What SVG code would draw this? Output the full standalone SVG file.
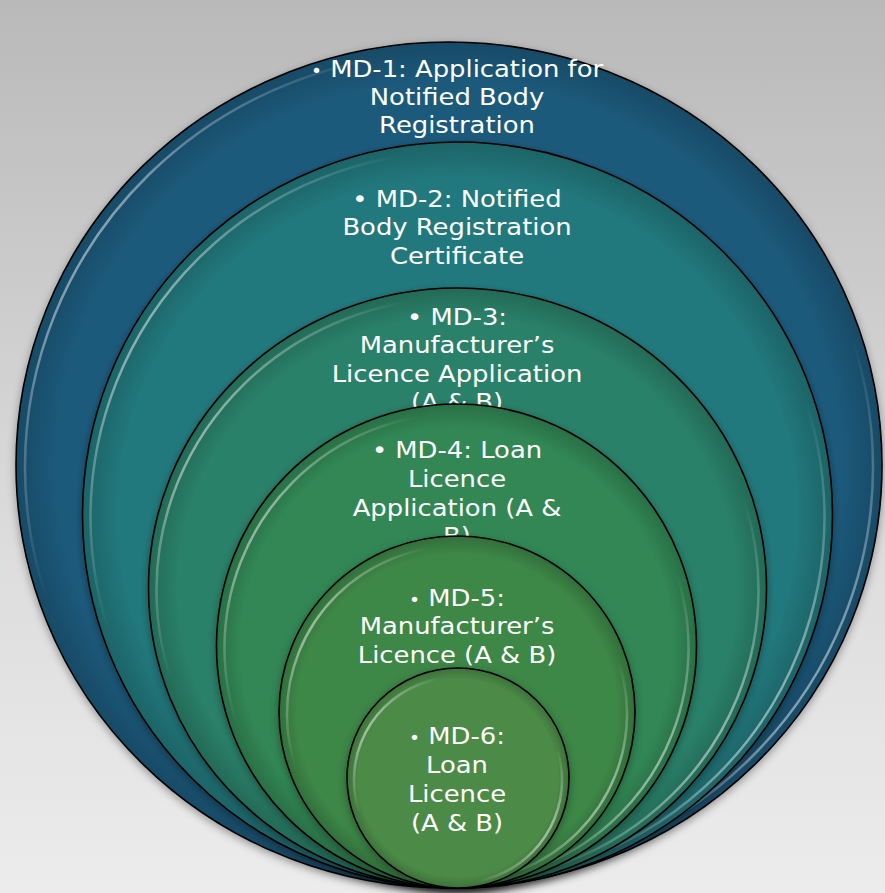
<svg xmlns="http://www.w3.org/2000/svg" width="885" height="893" viewBox="0 0 885 893">
  <defs>
    <linearGradient id="bg" x1="0" y1="0" x2="0" y2="1">
      <stop offset="0" stop-color="#b9b9b9"/>
      <stop offset="0.6" stop-color="#dcdcdc"/>
      <stop offset="1" stop-color="#ececec"/>
    </linearGradient>
    <linearGradient id="rim" x1="0" y1="0.2" x2="1" y2="0.8">
      <stop offset="0" stop-color="#ffffff" stop-opacity="0.9"/>
      <stop offset="0.1" stop-color="#ffffff" stop-opacity="0.3"/>
      <stop offset="0.22" stop-color="#ffffff" stop-opacity="0"/>
      <stop offset="0.78" stop-color="#ffffff" stop-opacity="0"/>
      <stop offset="0.9" stop-color="#ffffff" stop-opacity="0.3"/>
      <stop offset="1" stop-color="#ffffff" stop-opacity="0.9"/>
    </linearGradient>
    <radialGradient id="shade" cx="0.5" cy="0.5" r="0.5">
      <stop offset="0.9" stop-color="#000000" stop-opacity="0"/>
      <stop offset="1" stop-color="#000000" stop-opacity="0.18"/>
    </radialGradient>
    <filter id="shadow" x="-10%" y="-10%" width="120%" height="120%">
      <feDropShadow dx="0" dy="3" stdDeviation="4" flood-color="#000000" flood-opacity="0.35"/>
    </filter>
  </defs>
  <style>
    .disc { stroke: #000000; stroke-width: 1.6; filter: url(#shadow); }
    .shade { fill: url(#shade); stroke: none; }
    .rim { fill: none; stroke: url(#rim); stroke-width: 2.5; }
    .lbl { font-family: "DejaVu Sans", Verdana, sans-serif; font-size: 23.5px; fill: #ffffff; text-anchor: middle; }
    .sb { font-size: 17px; }
  </style>
  <rect x="0" y="0" width="885" height="893" fill="url(#bg)"/>

  <g id="md1">
    <ellipse class="disc" cx="449" cy="465" rx="433" ry="423" fill="#1d5a7b"/>
    <ellipse class="shade" cx="449" cy="465" rx="433" ry="423"/>
    <ellipse class="rim" cx="449" cy="467" rx="424" ry="414"/>
    <g transform="translate(457 0) scale(1.1 1)">
      <text class="lbl"><tspan x="0" y="77"><tspan class="sb">•</tspan> MD-1: Application for</tspan><tspan x="0" y="105">Notified Body</tspan><tspan x="0" y="133">Registration</tspan></text>
    </g>
  </g>

  <g id="md2">
    <ellipse class="disc" cx="457.5" cy="515" rx="375" ry="373" fill="#22797d"/>
    <ellipse class="shade" cx="457.5" cy="515" rx="375" ry="373"/>
    <ellipse class="rim" cx="457.5" cy="517" rx="367" ry="365"/>
    <g transform="translate(457 0) scale(1.1 1)">
      <text class="lbl"><tspan x="0" y="207">• MD-2: Notified</tspan><tspan x="0" y="235">Body Registration</tspan><tspan x="0" y="264">Certificate</tspan></text>
    </g>
  </g>

  <g id="md3">
    <ellipse class="disc" cx="457.5" cy="588" rx="309" ry="300" fill="#2a8169"/>
    <ellipse class="shade" cx="457.5" cy="588" rx="309" ry="300"/>
    <ellipse class="rim" cx="457.5" cy="590" rx="301" ry="292"/>
    <g transform="translate(457 0) scale(1.1 1)">
      <text class="lbl"><tspan x="0" y="325">• MD-3:</tspan><tspan x="0" y="353.5">Manufacturer’s</tspan><tspan x="0" y="382">Licence Application</tspan><tspan x="0" y="410">(A &amp; B)</tspan></text>
    </g>
  </g>

  <g id="md4">
    <ellipse class="disc" cx="456.5" cy="646" rx="240" ry="242" fill="#308755"/>
    <ellipse class="shade" cx="456.5" cy="646" rx="240" ry="242"/>
    <ellipse class="rim" cx="456.5" cy="648" rx="232" ry="234"/>
    <g transform="translate(457 0) scale(1.1 1)">
      <text class="lbl"><tspan x="0" y="458.5">• MD-4: Loan</tspan><tspan x="0" y="487.5">Licence</tspan><tspan x="0" y="516">Application (A &amp;</tspan><tspan x="0" y="544.5">B)</tspan></text>
    </g>
  </g>

  <g id="md5">
    <ellipse class="disc" cx="457" cy="712" rx="178" ry="176" fill="#3c8746"/>
    <ellipse class="shade" cx="457" cy="712" rx="178" ry="176"/>
    <ellipse class="rim" cx="457" cy="714" rx="170" ry="168"/>
    <g transform="translate(457 0) scale(1.1 1)">
      <text class="lbl"><tspan x="0" y="606"><tspan class="sb">•</tspan> MD-5:</tspan><tspan x="0" y="634.5">Manufacturer’s</tspan><tspan x="0" y="663">Licence (A &amp; B)</tspan></text>
    </g>
  </g>

  <g id="md6">
    <ellipse class="disc" cx="458" cy="778" rx="111" ry="110" fill="#4c8a46"/>
    <ellipse class="shade" cx="458" cy="778" rx="111" ry="110"/>
    <ellipse class="rim" cx="458" cy="780" rx="104" ry="103"/>
    <g transform="translate(457 0) scale(1.1 1)">
      <text class="lbl"><tspan x="0" y="744"><tspan class="sb">•</tspan> MD-6:</tspan><tspan x="0" y="773">Loan</tspan><tspan x="0" y="802.5">Licence</tspan><tspan x="0" y="831.5">(A &amp; B)</tspan></text>
    </g>
  </g>

  <g id="connectors"/>
</svg>
